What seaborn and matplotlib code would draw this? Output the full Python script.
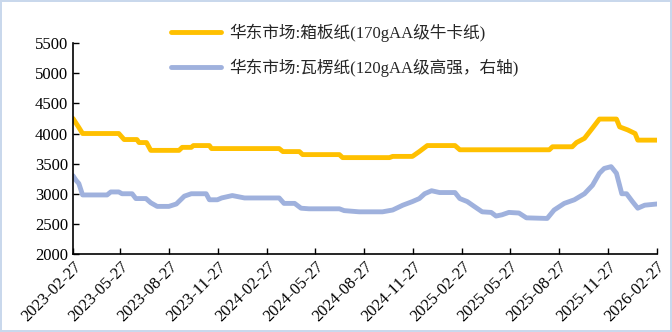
import pandas as pd
import seaborn as sns
import matplotlib.pyplot as plt
import matplotlib.dates as mdates

# 华东市场:箱板纸 (170gAA级牛卡纸)
board_dates = ["2023-02-27", "2023-03-10", "2023-03-17", "2023-05-24", "2023-06-03", "2023-06-27",
               "2023-07-01", "2023-07-15", "2023-07-23", "2023-09-14", "2023-09-20", "2023-10-07",
               "2023-10-11", "2023-11-10", "2023-11-14", "2024-03-20", "2024-03-27", "2024-04-27",
               "2024-05-03", "2024-07-11", "2024-07-17", "2024-10-13", "2024-10-19", "2024-11-25",
               "2024-12-08", "2024-12-23", "2025-02-13", "2025-02-22", "2025-08-09", "2025-08-15",
               "2025-09-21", "2025-09-29", "2025-10-14", "2025-10-29", "2025-11-11", "2025-12-13",
               "2025-12-19", "2026-01-03", "2026-01-17", "2026-01-22", "2026-02-27"]
board_vals = [4250, 4100, 4000, 4000, 3900, 3900,
              3850, 3850, 3720, 3720, 3770, 3770,
              3800, 3800, 3750, 3750, 3700, 3700,
              3650, 3650, 3600, 3600, 3620, 3620,
              3700, 3800, 3800, 3730, 3730, 3780,
              3780, 3850, 3920, 4090, 4240, 4240,
              4110, 4060, 4000, 3890, 3890]

# 华东市场:瓦楞纸 (120gAA级高强)
flute_dates = ["2023-02-27", "2023-03-05", "2023-03-10", "2023-03-17", "2023-05-02", "2023-05-09",
               "2023-05-24", "2023-05-30", "2023-06-18", "2023-06-25", "2023-07-14", "2023-07-23",
               "2023-08-04", "2023-08-26", "2023-09-09", "2023-09-24", "2023-10-07", "2023-11-04",
               "2023-11-10", "2023-11-25", "2023-12-03", "2023-12-23", "2024-01-15", "2024-03-20",
               "2024-03-29", "2024-04-18", "2024-04-30", "2024-05-15", "2024-07-11", "2024-07-20",
               "2024-08-17", "2024-09-30", "2024-10-19", "2024-11-07", "2024-11-25", "2024-12-08",
               "2024-12-18", "2024-12-31", "2025-01-15", "2025-02-13", "2025-02-22", "2025-03-08",
               "2025-03-21", "2025-04-05", "2025-04-22", "2025-05-01", "2025-05-12", "2025-05-25",
               "2025-06-13", "2025-06-27", "2025-08-05", "2025-08-18", "2025-09-06", "2025-09-25",
               "2025-10-14", "2025-10-29", "2025-11-11", "2025-11-20", "2025-12-03", "2025-12-13",
               "2025-12-23", "2026-01-01", "2026-01-12", "2026-01-22", "2026-02-04", "2026-02-27"]
flute_vals = [3300, 3220, 3170, 2980, 2980, 3030,
              3030, 3000, 3000, 2920, 2920, 2850,
              2790, 2790, 2830, 2960, 3000, 3000,
              2900, 2900, 2930, 2970, 2930, 2930,
              2840, 2840, 2760, 2750, 2750, 2720,
              2700, 2700, 2730, 2810, 2870, 2920,
              3000, 3050, 3020, 3020, 2920, 2870,
              2790, 2700, 2690, 2630, 2650, 2690,
              2680, 2600, 2590, 2730, 2840, 2900,
              3000, 3140, 3340, 3420, 3450, 3340,
              3000, 3000, 2870, 2760, 2810, 2830]

labels = ["华东市场:箱板纸(170gAA级牛卡纸)", "华东市场:瓦楞纸(120gAA级高强，右轴)"]
tick_labels = ["2023-02-27", "2023-05-27", "2023-08-27", "2023-11-27", "2024-02-27",
               "2024-05-27", "2024-08-27", "2024-11-27", "2025-02-27", "2025-05-27",
               "2025-08-27", "2025-11-27", "2026-02-27"]

df = pd.concat([
    pd.DataFrame({"date": pd.to_datetime(board_dates), "price": board_vals, "series": labels[0]}),
    pd.DataFrame({"date": pd.to_datetime(flute_dates), "price": flute_vals, "series": labels[1]}),
])

sns.set_style("ticks")
plt.rcParams["font.family"] = ["Liberation Serif", "Noto Sans CJK SC", "DejaVu Sans"]

fig = plt.figure(figsize=(6.72, 3.32), dpi=100)
ax = fig.add_axes([0.1086, 0.235, 0.869, 0.635])

sns.lineplot(data=df, x="date", y="price", hue="series", palette=["#FFC000", "#9FB1DD"],
             linewidth=3.5, ax=ax, legend=False)

ax.set_xlim(pd.Timestamp(tick_labels[0]), pd.Timestamp(tick_labels[-1]))
ax.set_ylim(2000, 5500)
ax.set_yticks(range(2000, 5501, 500))
ax.set_xticks(pd.to_datetime(tick_labels))
ax.xaxis.set_major_formatter(mdates.DateFormatter("%Y-%m-%d"))
ax.tick_params(axis="both", direction="in", length=4, width=1, labelsize=12, colors="black")
plt.setp(ax.get_xticklabels(), rotation=45, ha="right", rotation_mode="anchor")
ax.set_xlabel("")
ax.set_ylabel("")
for s in ["top", "right"]:
    ax.spines[s].set_visible(False)
for s in ["left", "bottom"]:
    ax.spines[s].set_linewidth(1.2)
    ax.spines[s].set_color("black")

handles = ax.get_lines()[:2]
fig.legend(handles, labels, loc="upper left", bbox_to_anchor=(0.245, 0.95), frameon=False,
           fontsize=12, handlelength=3.0, handletextpad=0.45, labelspacing=1.0,
           borderaxespad=0)

fig.patch.set_edgecolor("#C9D8EC")
fig.patch.set_linewidth(1.5)

fig.savefig("out.png", dpi=100)
